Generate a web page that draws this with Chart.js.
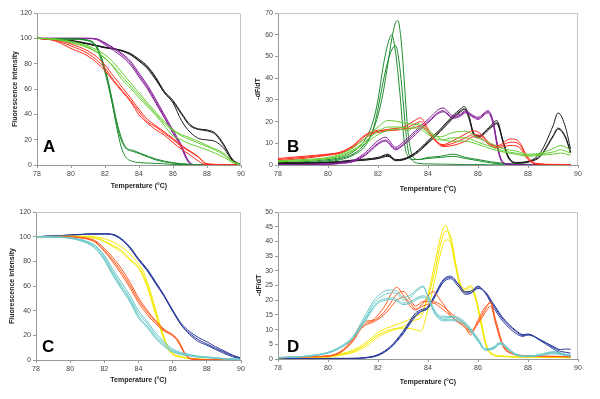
<!DOCTYPE html>
<html>
<head>
<meta charset="utf-8">
<script src="https://cdn.jsdelivr.net/npm/chart.js@4.4.1/dist/chart.umd.min.js"></script>
<style>
  body { margin: 0; background: #fff; }
  #wrap { position: relative; width: 600px; height: 399px; background: #fff; }
  #wrap canvas { position: absolute; }
</style>
</head>
<body>
<div id="wrap">
  <canvas id="panelA" width="250" height="200" style="left:0;top:0"></canvas>
  <canvas id="panelB" width="355" height="200" style="left:245px;top:0"></canvas>
  <canvas id="panelC" width="250" height="199" style="left:0;top:200px"></canvas>
  <canvas id="panelD" width="355" height="199" style="left:245px;top:200px"></canvas>
</div>
<script>
// ---------- panel A : fluorescence (melting curves) ----------
const tA_blk = [78,79,80,81,81.5,82,82.5,83,83.5,84,84.5,85,85.5,86,86.5,87,87.5,88,88.5,89,89.5,90];
const aBlk1 = [100,99.3,98.4,96,94.5,93,92,90.5,88,83.5,78,69,58,51,41,32,28.5,27.7,25,16,4,0];
const aBlk2 = [100,99.2,98,95.5,94,92.5,91.5,90,87,82,76,67,57,50,40,31,28,27,24,15,4.5,0];
const aBlk3 = [100,99,97.8,95.5,94,92.8,91.8,90,87.5,82.5,77,68,57,49,35,26,21,19.8,18.5,13,3.4,0];

const tA_pur = [78,79,80,81,81.5,82,82.5,83,83.5,84,84.5,85,85.5,86,86.5,86.8,87.1,87.5,90];
const aPur1 = [100,100,100,100,99.5,96,92,87,80.5,71,61.5,50,38,26,14.5,5,0.5,0,0];
const aPur2 = [100,100,100,99.8,99,95,90.5,85.5,79,69.5,60,48.5,37,25,13.5,4.5,0.3,0,0];
const aPur3 = [100,100,100,100,99.6,96.5,92.5,88,82,72.5,63,51.5,39.5,27.5,15.5,6,0.8,0,0];

const tA_red = [78,79,80,81,81.5,82,82.5,83,83.5,84,84.5,85,85.5,86,86.5,87,87.5,88,90];
const aRed1 = [100,98.7,94,88,83,76.5,67,59,51,42,34,30,25,20,14.5,10.5,6,0.5,0];
const aRed2 = [100,98.2,92,86,81,74.5,66,58,50,39.6,33,27.7,23.5,17.7,12.5,8,3,0,0];
const aRed3 = [100,99,95.5,90,85.5,79,70,61.5,53,44,36,31,26,21,15.5,11,6.5,1,0];

const tA_lg = [78,79,80,81,81.5,82,82.5,83,83.5,84,84.5,85,85.5,86,86.5,87,88,89,89.5,90];
const aLg1 = [100,99.5,97.6,94,91,87,81,73,65,57,49,41.5,34,28,24,21.5,15.5,9,3,0];
const aLg2 = [100,99.3,97,93,89.5,84.5,78,70,62.5,55,47.5,40,33,27,23,20,14.5,8,2.5,0];
const aLg3 = [100,99.2,96.5,92.5,89,84,77,67.5,60.5,53,46,39,31,23,19.8,16.6,12,6,2,0];

const tA_dg = [78,79,80,81,81.5,81.8,82.1,82.4,82.7,82.95,83.2,83.7,84.1,85,86,87,88,90];
const aDg1 = [100,99.7,99.5,98.4,93.7,84,71,53,34,22,14.5,11.3,9.2,4.7,1.8,0.5,0.2,0];
const aDg2 = [100,99.6,99.3,98,92.5,82,68,50,31,20,13.5,10.5,8.5,4,1.5,0.4,0.2,0];
const aDg3 = [100,99.7,99.5,98.6,94,84.5,70,51,29,14.5,6.6,2.6,1.8,1.3,0.5,0.2,0,0];

// ---------- panel B : -dF/dT ----------
const tB_dg = [78,79,80,80.5,81,81.5,81.8,82,82.2,82.4,82.55,82.7,82.8,82.9,83,83.1,83.2,83.35,83.6,84,84.5,85,85.5,86,86.5,87,88,89,89.7];
const bDg1 = [0.5,1,2,3,5,10,16,23,33,47,58,65.5,66.5,60,47,30,15,5,2.5,3,3.5,4,3,2,1,0.5,0.2,0.1,0];
const bDg2 = [1,1.5,2.5,3.5,6,12,20,30,45,56,60,52,42,30,16,7,4,2.5,2.5,3.5,4,5,3.5,2.5,1.5,0.8,0.3,0.1,0];
const bDg3 = [0.5,0.8,1.5,2.5,4.5,9,16,26,38,48,53,55,51,42,30,17,7,2.5,0.8,0.5,0.4,0.3,0.2,0.2,0.1,0.1,0,0,0];

const tB_lg = [78,79,80,80.5,81,81.5,82,82.4,82.8,83.2,83.6,84,84.5,85,85.5,86,86.5,87,87.5,88,88.5,89,89.3,89.7];
const bLg1 = [2,2.5,3.5,5,8,12.5,17.5,20.5,20,19,18.5,15,13,15,15.5,12.5,10,7.5,6.5,5,5.5,7.5,9,7];
const bLg2 = [1.5,2,3,4.5,7,11,15.5,17.5,17.5,17,17,14,11.5,12.5,12.5,10.5,8.5,6.5,5.5,4.5,5,6,7,5.5];
const bLg3 = [1.5,2,3,4,6.5,10,14,16,16.5,16,19,16,12,11,11,9.5,7.5,6,5,4,4.5,5,5.5,4.5];

const tB_red = [78,79,80,80.5,81,81.5,81.8,82,82.5,83,83.4,83.7,84,84.3,84.6,85,85.5,85.8,86.1,86.5,86.8,87.3,87.6,88,88.3,89,89.7];
const bRed1 = [2.5,3.5,4.8,5.8,8.5,13.5,15,15.5,16.6,17.4,20,21.7,16.6,11.2,9.4,11.2,14.3,15.8,14.5,9.7,9,12,11.2,3.5,0.8,0.3,0.2];
const bRed2 = [2,3,4.5,5.5,8,12.5,14.5,15,16,16.5,18.5,20,16,11.5,9,10,12.5,14,13.5,9.5,8.5,10.5,10,3,0.6,0.2,0.2];
const bRed3 = [3,4,5,6,9,14,15.5,16,16,16.5,17,18,15,11,8.5,9,11,13,12.5,9,8,9,8.5,2.5,0.5,0.2,0.2];

const tB_pur = [78,80,80.5,81,81.5,82,82.3,82.7,83,83.5,84,84.6,85,85.3,85.5,85.8,86,86.4,86.6,86.8,86.95,87.2,88,89.7];
const bPur1 = [0.2,0.5,1,2,5.8,11.2,12.8,8.2,10.5,15.8,21,26.3,22.8,23.5,25,22.8,22,25,20.5,8,2,0.5,0,0];
const bPur2 = [0.2,0.4,0.8,1.8,5,10,11.5,7.5,9.5,15,20,25,22,23,24.5,22.5,21.5,24.5,20,7.5,2,0.4,0,0];
const bPur3 = [0.1,0.3,0.7,1.5,4.5,9.5,11,7,9,14,19.5,24.5,21.5,22.5,24,22,21,24,19,6.5,1.5,0.3,0,0];

const tB_blk = [78,79,80,81,82,82.4,82.7,83,83.5,84,84.5,85,85.3,85.45,85.65,85.8,86,86.5,86.75,87,87.2,87.5,88,88.5,89,89.2,89.5,89.7];
const bBlk1 = [1,1,1.2,2.3,3.5,5,2.5,2.8,5.8,11.2,16.6,22.8,25.8,27,22,15,13,18,20.5,11.2,4.3,1.2,1.7,5.8,18,24,17.4,7.4];
const bBlk2 = [0.8,0.9,1,2,3,4.5,2.2,2.5,5.5,10.5,16,22,25,26,22,15.5,13.5,17.5,19.5,11,4,1,1.5,4.5,13.5,17,13,6];
const bBlk3 = [0.8,0.8,1,1.8,3,4,2,2.3,5,10,15.5,21.5,24.5,25.5,21,14.5,12.5,17,19,10.5,3.5,0.8,1.3,4,13,16.5,12.5,5.5];

// ---------- panel C : fluorescence ----------
const tC_blu = [78,79,80,81,82,82.5,83,83.5,84,84.5,85,85.5,86,86.5,87,87.5,88,88.5,89,89.5,90];
const cBlu1 = [100,100.6,101.4,102.2,102.4,101.9,98.4,91.7,82.3,74,63.4,52.6,40.5,29.7,23,18.3,14.8,10.8,7.5,4,1.6];
const cBlu2 = [100,100.5,101.2,102,102.2,101.5,97.5,90.5,81,72.5,62,51.5,39.5,28.5,21.5,16.5,13,9.5,6.5,3.5,1.3];
const cBlu3 = [100,100.5,101.2,102,102.2,101.6,97.8,91,81.5,73,62.5,51.8,39.8,28.5,20.5,15,12,8.6,5.4,2.7,1];

const tC_yel = [78,79,80,81,81.5,82,82.5,83,83.5,84,84.3,84.6,84.9,85.3,85.7,86,86.5,87,88,90];
const cYel1 = [100,100.2,100.3,100.3,99.8,98.4,95.7,91.7,86,78,71,60,46,27,11,5.4,2.7,1.3,0.5,0];
const cYel2 = [100,100.2,100.3,100,99,96.5,93,89,82,75.5,68,57,43,25.6,10.8,5,2.5,1.2,0.5,0];
const cYel3 = [100,100.1,100.2,99.8,98.5,96,92,87.5,81,74.5,66.5,55.5,41.5,24,9.5,4.5,2.2,1,0.4,0];

const tC_org = [78,79,80,81,81.5,82,82.5,83,83.5,84,84.5,85,85.5,86,86.3,86.5,86.7,87,87.5,88,90];
const cOrg1 = [100,100,99.7,98.4,95.7,89,81,71.5,60.7,48.5,39,31,24.3,20.2,16,10.8,5.4,1.3,0.5,0.2,0];
const cOrg2 = [100,100,99.8,98.8,96.5,90.5,83,74,63,50.5,40.5,32,25,20.5,16.5,11.5,6,1.6,0.6,0.2,0];
const cOrg3 = [100,100,99.6,98,95,88,79.5,69.5,58.5,46.5,37,29.5,23.5,19.5,15,10,5,1.1,0.4,0.2,0];

const tC_cyn = [78,79,80,81,81.5,82,82.5,83,83.5,84,84.5,85,85.5,86,86.5,87,87.5,88,89,90];
const cCyn1 = [100,99.7,99,95.7,91.7,83.6,71.5,60.7,50,37.8,29.7,20.2,13.5,8,5.4,4,2.7,2.2,1,0.5];
const cCyn2 = [100,99.6,98.8,95,90.5,82,70,59,48.5,35.5,27.5,18.5,12,7,4.5,3.2,2.2,1.8,0.8,0.4];
const cCyn3 = [100,99.7,99.2,96.2,92.5,85,73.5,63,52.5,40,31.5,22,15,9,6,4.5,3.2,2.6,1.3,0.6];
const cCyn4 = [100,99.6,98.6,94.5,90,81,68.5,57.5,47,34,26.5,17.5,11,6.5,4.5,3.5,2.5,2,1,0.5];

// ---------- panel D : -dF/dT ----------
const tD_yel = [78,79,80,80.5,81,81.5,82,82.5,83,83.5,83.7,84,84.3,84.5,84.7,84.9,85.1,85.3,85.5,85.7,85.9,86.1,86.3,86.5,87,88,89,89.7];
const dYel1 = [0.3,0.3,0.7,1.5,2.6,4.9,8.2,10,11,13.3,14,22,33.6,41.5,45.5,40,31.4,24.6,23.5,24.6,21,13.3,5.4,2,0.9,0.7,0.5,0.5];
const dYel2 = [0.3,0.4,0.8,1.8,3,5.5,9,11,12.5,14.5,15.5,21,31,39,43.5,42,33,25.5,24,25,21.5,14,6,2.2,1,0.7,0.6,0.5];
const dYel3 = [0.2,0.3,0.6,1.3,2.2,4.2,7.5,9.5,10.5,10,9.4,17,28,36,40.5,40,32.5,24,22.5,23.5,20.5,12.5,5,1.8,0.8,0.6,0.5,0.4];

const tD_blu = [78,80,81,81.5,82,82.5,83,83.5,83.7,84,84.3,84.6,84.9,85.2,85.5,85.7,86,86.3,86.6,87,87.5,87.8,88,88.5,89,89.3,89.5,89.7];
const dBlu1 = [0,0.2,0.2,0.5,1.5,4.3,9.4,15.6,16.7,17.8,22.3,26.9,28.2,25.7,22.9,23,24.8,22.3,17.8,12.8,8.8,7.7,8.2,6.5,4.3,3.2,3.4,3.3];
const dBlu2 = [0,0.2,0.2,0.4,1.3,4,9,15,16.2,17.5,22,26.5,27.8,25.5,22.5,22.5,24.5,22.5,18.5,13.5,9.5,8,8.3,6.5,4,2.6,2.3,2];
const dBlu3 = [0,0.1,0.2,0.4,1.2,3.8,8.5,14.5,16,17.2,21.5,26,27.3,24.8,22,22.3,24,22.8,19,14,9.8,8.3,8.5,6.2,3.5,2,1.5,1.2];

const tD_org = [78,79,80,80.5,81,81.3,81.5,81.8,82,82.3,82.5,82.75,83,83.3,83.5,83.8,84.2,84.5,85,85.5,85.7,86,86.3,86.5,86.7,87,87.3,88,89,89.7];
const dOrg1 = [0.5,0.8,1.1,2.6,7.1,11.6,12.8,13.3,15,18.4,21.8,24.4,21.8,17.8,16.7,19,22.9,20,13.9,10.5,8.2,13.3,17.8,19,12.2,4.3,2,1.1,0.9,0.8];
const dOrg2 = [0.4,0.7,1,2.3,6.5,10.5,12,13,14,16.5,19,22,23,20,18,19.5,19.5,18.5,15,11.5,9.5,12.5,17,19.5,13.5,5,2.2,1.1,0.9,0.8];
const dOrg3 = [0.4,0.7,1,2.2,6,10,11.5,12.5,13.5,15.5,17.5,20,21,19,17,18,19,17.5,14,11,9,12,16,18,12.5,4.5,2,1,0.8,0.7];

const tD_cyn = [78,79,80,80.5,81,81.5,81.8,82,82.3,82.5,82.8,83,83.3,83.6,83.8,84,84.3,84.6,85,85.3,85.6,86,86.3,86.6,86.9,87.2,87.5,88,88.5,89,89.5,89.7];
const dCyn1 = [0.5,0.9,2.3,4.3,7.7,15,19.5,21.5,23.2,23.5,22.8,21,21.8,24,24.8,21.2,15.6,13.9,14.2,13.3,11,6.5,3.2,3.7,5.4,3.4,1.5,0.9,1.5,2.3,1.5,1.2];
const dCyn2 = [0.5,0.9,2.2,4,7.2,14,18.5,20.5,22,22.5,22,20,21,23.5,24.5,21.5,16,14.5,14.5,13.8,11.5,7,3.5,4,5.8,3.8,1.8,1,1.6,2.5,1.6,1.2];
const dCyn3 = [0.4,0.8,2,3.8,7,13,17,19,20,20.3,19.5,18.5,19,20.5,21,20,15,13,13,12.5,10.5,6,3,3.3,5,3.2,1.4,0.8,1.2,1.8,1.2,1];
const dCyn4 = [0.4,0.8,2.1,3.9,7.2,13.5,17.5,19.5,20.5,20.8,20,19,19.5,21,21.5,20.5,15.5,13.5,13.5,13,11,6.2,3.2,3.5,5.2,3.3,1.5,0.9,1.4,2,1.4,1.1];

const BLACK = '#1a1a1a', PURPLE = '#86209a', RED = '#ff2a1a', LGREEN = '#66cc33', DGREEN = '#1e8c2e';
const BLUE = '#27389a', YELLOW = '#f4e800', ORANGE = '#ff5a1f', CYAN = '#6cc9c9';

function line(t, v, color) {
  return {
    data: t.map((x, i) => ({ x: x, y: v[i] })),
    borderColor: color,
    borderWidth: 1,
    pointRadius: 0,
    fill: false,
    cubicInterpolationMode: 'monotone'
  };
}

// grey frame round the plot area + the big panel letter
const framePlugin = {
  id: 'frame',
  afterDatasetsDraw(chart, args, opts) {
    const { ctx, chartArea: a } = chart;
    ctx.save();
    ctx.strokeStyle = '#c4c4c4';
    ctx.lineWidth = 1;
    ctx.beginPath();
    ctx.moveTo(a.left, a.top + 0.5);
    ctx.lineTo(a.right - 0.5, a.top + 0.5);
    ctx.lineTo(a.right - 0.5, a.bottom);
    ctx.stroke();
    ctx.fillStyle = '#000';
    ctx.font = 'bold 17px "Liberation Sans", Arial, sans-serif';
    ctx.textBaseline = 'alphabetic';
    ctx.fillText(opts.letter, a.left + opts.dx, a.bottom - opts.dy);
    ctx.restore();
  }
};

const FONT = '"Liberation Sans", Arial, sans-serif';

function panel(id, datasets, o) {
  return new Chart(document.getElementById(id), {
    type: 'line',
    data: { datasets: datasets },
    options: {
      responsive: false,
      animation: false,
      devicePixelRatio: 1,
      layout: { padding: { left: 0, right: o.padRight, top: o.padTop, bottom: 0 } },
      plugins: {
        legend: { display: false },
        tooltip: { enabled: false },
        frame: { letter: o.letter, dx: o.letterDx, dy: o.letterDy }
      },
      scales: {
        x: {
          type: 'linear', min: 78, max: 90,
          afterFit: s => { s.height = o.xHeight; },
          ticks: { stepSize: 2, font: { size: 7, family: FONT }, color: '#444', padding: 2, maxRotation: 0 },
          grid: { drawOnChartArea: false, drawTicks: true, tickLength: 3, color: '#999' },
          border: { color: '#999' },
          title: { display: true, text: 'Temperature (°C)', font: { size: 7, weight: 'bold', family: FONT }, color: '#222', padding: { top: 0, bottom: o.xTitlePad } }
        },
        y: {
          min: 0, max: o.yMax,
          afterFit: s => { s.width = o.yWidth; },
          ticks: { stepSize: o.yStep, font: { size: 7, family: FONT }, color: '#444', padding: 2 },
          grid: { drawOnChartArea: false, drawTicks: true, tickLength: 3, color: '#999' },
          border: { color: '#999' },
          title: { display: true, text: o.yTitle, font: { size: 7, weight: 'bold', family: FONT }, color: '#222', padding: { top: o.yTitlePad, bottom: 0 } }
        }
      }
    },
    plugins: [framePlugin]
  });
}

panel('panelA', [
  line(tA_lg, aLg1, LGREEN), line(tA_lg, aLg2, LGREEN), line(tA_lg, aLg3, LGREEN),
  line(tA_red, aRed1, RED), line(tA_red, aRed2, RED), line(tA_red, aRed3, RED),
  line(tA_dg, aDg1, DGREEN), line(tA_dg, aDg2, DGREEN), line(tA_dg, aDg3, DGREEN),
  line(tA_pur, aPur1, PURPLE), line(tA_pur, aPur2, PURPLE), line(tA_pur, aPur3, PURPLE),
  line(tA_blk, aBlk1, BLACK), line(tA_blk, aBlk2, BLACK), line(tA_blk, aBlk3, BLACK)
], { padRight: 9, padTop: 13, xHeight: 35, yWidth: 37, yMax: 120, yStep: 20,
     yTitle: 'Fluorescence intensity', yTitlePad: 11, xTitlePad: 10, letter: 'A', letterDx: 6, letterDy: 13 });

panel('panelB', [
  line(tB_lg, bLg1, LGREEN), line(tB_lg, bLg2, LGREEN), line(tB_lg, bLg3, LGREEN),
  line(tB_red, bRed1, RED), line(tB_red, bRed2, RED), line(tB_red, bRed3, RED),
  line(tB_pur, bPur1, PURPLE), line(tB_pur, bPur2, PURPLE), line(tB_pur, bPur3, PURPLE),
  line(tB_blk, bBlk1, BLACK), line(tB_blk, bBlk2, BLACK), line(tB_blk, bBlk3, BLACK),
  line(tB_dg, bDg1, DGREEN), line(tB_dg, bDg2, DGREEN), line(tB_dg, bDg3, DGREEN)
], { padRight: 22, padTop: 13, xHeight: 35, yWidth: 33, yMax: 70, yStep: 10,
     yTitle: '-dF/dT', yTitlePad: 9, xTitlePad: 7, letter: 'B', letterDx: 9, letterDy: 13 });

panel('panelC', [
  line(tC_cyn, cCyn1, CYAN), line(tC_cyn, cCyn2, CYAN), line(tC_cyn, cCyn3, CYAN), line(tC_cyn, cCyn4, CYAN),
  line(tC_org, cOrg1, ORANGE), line(tC_org, cOrg2, ORANGE), line(tC_org, cOrg3, ORANGE),
  line(tC_yel, cYel1, YELLOW), line(tC_yel, cYel2, YELLOW), line(tC_yel, cYel3, YELLOW),
  line(tC_blu, cBlu1, BLUE), line(tC_blu, cBlu2, BLUE), line(tC_blu, cBlu3, BLUE)
], { padRight: 9, padTop: 12, xHeight: 39, yWidth: 36, yMax: 120, yStep: 20,
     yTitle: 'Fluorescence intensity', yTitlePad: 8, xTitlePad: 15, letter: 'C', letterDx: 6, letterDy: 8 });

panel('panelD', [
  line(tD_cyn, dCyn1, CYAN), line(tD_cyn, dCyn2, CYAN), line(tD_cyn, dCyn3, CYAN), line(tD_cyn, dCyn4, CYAN),
  line(tD_org, dOrg1, ORANGE), line(tD_org, dOrg2, ORANGE), line(tD_org, dOrg3, ORANGE),
  line(tD_blu, dBlu1, BLUE), line(tD_blu, dBlu2, BLUE), line(tD_blu, dBlu3, BLUE),
  line(tD_yel, dYel1, YELLOW), line(tD_yel, dYel2, YELLOW), line(tD_yel, dYel3, YELLOW)
], { padRight: 22, padTop: 12, xHeight: 40, yWidth: 33, yMax: 50, yStep: 5,
     yTitle: '-dF/dT', yTitlePad: 10, xTitlePad: 13, letter: 'D', letterDx: 9, letterDy: 7 });
</script>
</body>
</html>
